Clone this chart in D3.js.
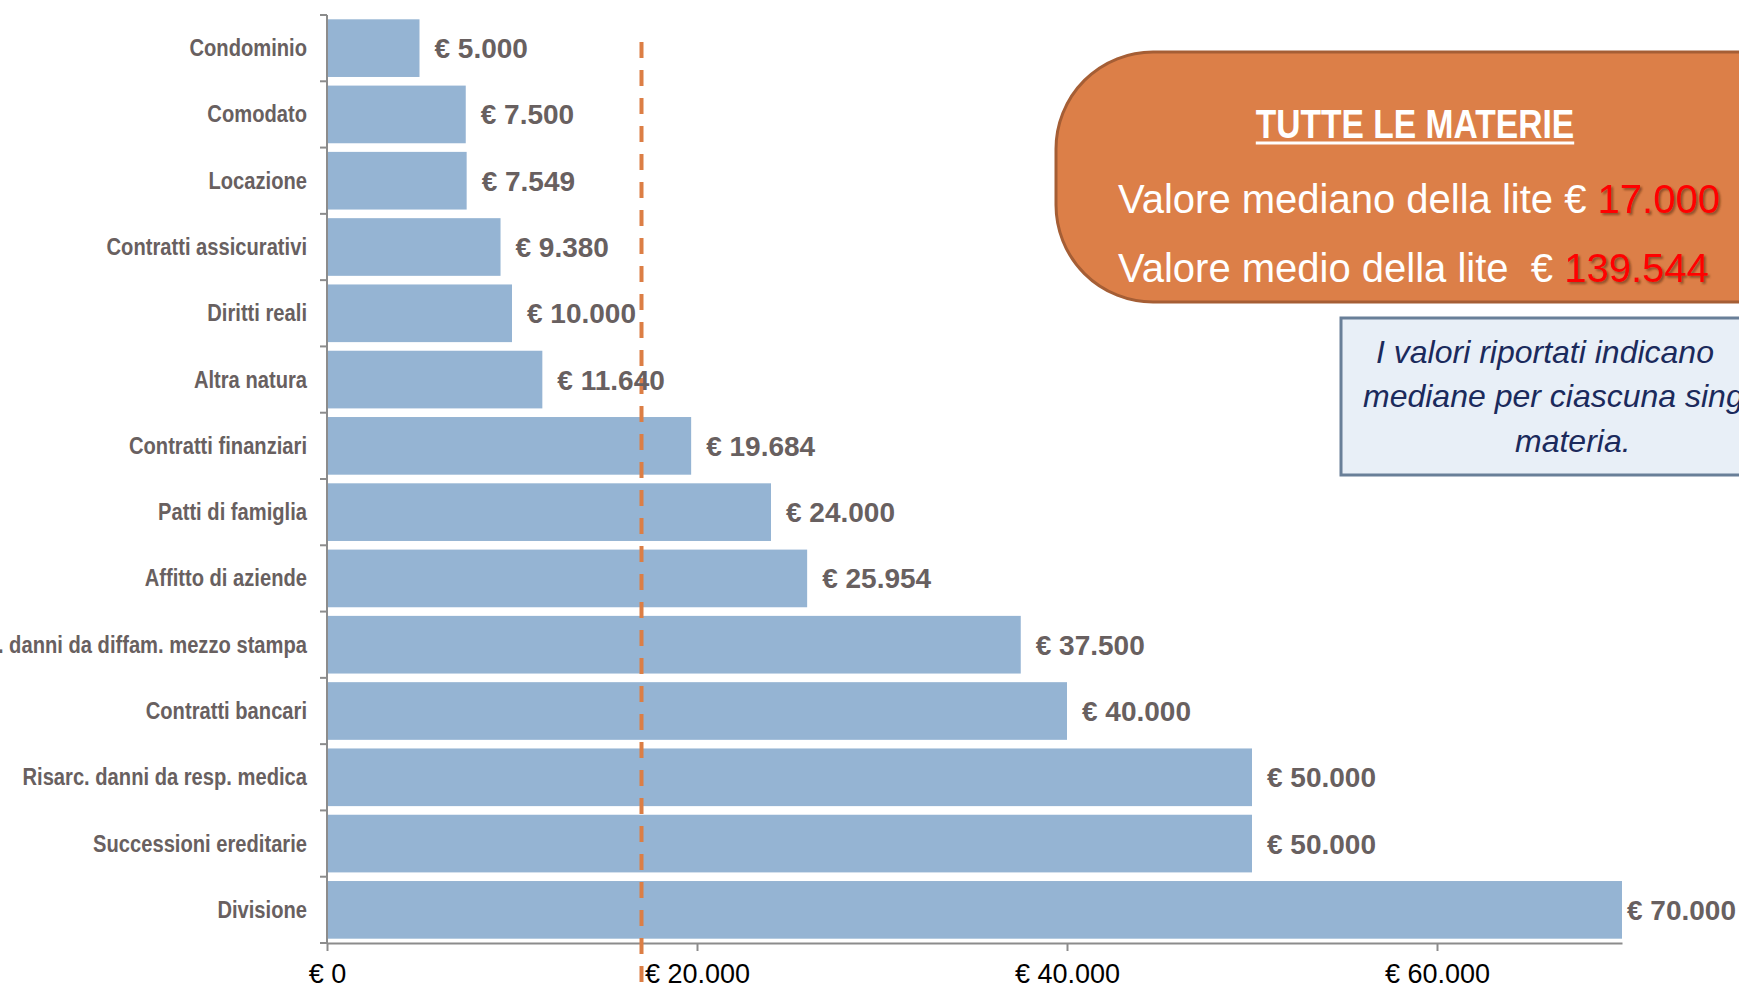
<!DOCTYPE html>
<html>
<head>
<meta charset="utf-8">
<script src="https://cdn.jsdelivr.net/npm/d3@7"></script>
<style>
  html, body { margin: 0; padding: 0; background: #ffffff; overflow: hidden; }
  svg { display: block; }
</style>
</head>
<body>
<div id="chart"></div>
<script>
// dati
var categories = ["Condominio", "Comodato", "Locazione", "Contratti assicurativi", "Diritti reali",
    "Altra natura", "Contratti finanziari", "Patti di famiglia", "Affitto di aziende",
    "Risarc. danni da diffam. mezzo stampa", "Contratti bancari", "Risarc. danni da resp. medica",
    "Successioni ereditarie", "Divisione"];
var values = [5000, 7500, 7549, 9380, 10000, 11640, 19684, 24000, 25954, 37500, 40000, 50000, 50000, 70000];
var xTicks = [0, 20000, 40000, 60000];
var medianValue = 17000;
var meanValue = 139544;
var boxTitle = "TUTTE LE MATERIE";
var noteLines = ["I valori riportati indicano", "mediane per ciascuna singola", "materia."];

var width = 1739;
var height = 989;

var itLocale = d3.formatLocale({decimal: ",", thousands: ".", grouping: [3], currency: ["€ ", ""]});
var fmt = itLocale.format(",.0f");
var euro = function (d) { return "€ " + fmt(d); };

var svg = d3.select("#chart")
    .append("svg")
    .attr("width", width)
    .attr("height", height);

var defs = svg.append("defs");
var shadow = defs.append("filter").attr("id", "shadow")
    .attr("x", "-10%").attr("y", "-20%").attr("width", "130%").attr("height", "150%");
shadow.append("feDropShadow")
    .attr("dx", 2).attr("dy", 2).attr("stdDeviation", 1)
    .attr("flood-color", "#5a2a10").attr("flood-opacity", 0.6);

var x = d3.scaleLinear()
    .domain([0, 70000])
    .range([327, 1622]);

var y = d3.scaleBand()
    .domain(categories)
    .range([15, 943])
    .paddingInner(0.13)
    .paddingOuter(0.065);

// barre
svg.append("g")
    .selectAll("rect")
    .data(values)
    .enter()
    .append("rect")
    .attr("x", x(0))
    .attr("y", function (d, i) { return y(categories[i]); })
    .attr("width", function (d) { return x(d) - x(0); })
    .attr("height", y.bandwidth())
    .style("fill", "#95b4d3");

// asse y con tacche tra le categorie
var step = y.step();
var boundaries = categories.map(function (c) { return y(c) - step * y.paddingInner() / 2; });
boundaries.push(943);

var yAxis = svg.append("g");
yAxis.append("line")
    .attr("x1", x(0)).attr("x2", x(0))
    .attr("y1", 15).attr("y2", 943)
    .style("stroke", "#8c8c8c").style("stroke-width", 2);
yAxis.selectAll(".ytick")
    .data(boundaries)
    .enter()
    .append("line")
    .attr("x1", x(0) - 7).attr("x2", x(0))
    .attr("y1", function (d) { return d; })
    .attr("y2", function (d) { return d; })
    .style("stroke", "#8c8c8c").style("stroke-width", 2);

// etichette categorie, compresse in orizzontale
yAxis.selectAll(".ylabel")
    .data(categories)
    .enter()
    .append("text")
    .attr("transform", function (d) {
        return "translate(307," + (y(d) + y.bandwidth() / 2 + 8) + ") scale(0.84,1)";
    })
    .attr("text-anchor", "end")
    .style("font-family", "'Liberation Sans', Arial, sans-serif")
    .style("font-weight", "bold")
    .style("font-size", "24px")
    .style("fill", "#686060")
    .text(function (d) { return d; });

// asse x
var xAxis = svg.append("g")
    .attr("transform", "translate(0,943)")
    .call(d3.axisBottom(x).tickValues(xTicks).tickSize(8).tickSizeOuter(0).tickFormat(euro));
xAxis.select(".domain").style("stroke", "#8c8c8c").style("stroke-width", 2);
xAxis.selectAll(".tick line").style("stroke", "#8c8c8c").style("stroke-width", 2);
xAxis.selectAll(".tick text")
    .attr("y", 40)
    .attr("dy", 0)
    .style("font-family", "'Liberation Sans', Arial, sans-serif")
    .style("font-size", "27px")
    .style("fill", "#000000");

// linea mediana
svg.append("line")
    .attr("x1", x(medianValue)).attr("x2", x(medianValue))
    .attr("y1", 42).attr("y2", height)
    .style("stroke", "#dc7e45")
    .style("stroke-width", 4)
    .style("stroke-dasharray", "16 12");

// etichette valori
var valueLabels = svg.append("g")
    .selectAll("text")
    .data(values)
    .enter()
    .append("text")
    .attr("y", function (d, i) { return y(categories[i]) + y.bandwidth() / 2 + 10; })
    .style("font-family", "'Liberation Sans', Arial, sans-serif")
    .style("font-weight", "bold")
    .style("font-size", "28px")
    .style("fill", "#686060")
    .text(euro);
valueLabels.attr("x", function (d) {
    var w = this.getComputedTextLength();
    return Math.min(x(d) + 15, width - w - 3);
});

// riquadro arancione
var bx = 1056, by = 52, bb = 302, r = 97;
svg.append("path")
    .attr("d", "M" + (width + 20) + "," + by + " H" + (bx + r) +
        " A" + r + "," + r + " 0 0 0 " + bx + "," + (by + r) +
        " V" + (bb - r) +
        " A" + r + "," + r + " 0 0 0 " + (bx + r) + "," + bb +
        " H" + (width + 20) + " Z")
    .style("fill", "#dc7f48")
    .style("stroke", "#a55e35")
    .style("stroke-width", 3);

var title = svg.append("text")
    .attr("transform", "translate(1415,138) scale(0.84,1)")
    .attr("text-anchor", "middle")
    .style("font-family", "'Liberation Sans', Arial, sans-serif")
    .style("font-weight", "bold")
    .style("font-size", "40px")
    .style("fill", "#ffffff")
    .text(boxTitle);
var tw = title.node().getComputedTextLength() * 0.84;
svg.append("line")
    .attr("x1", 1415 - tw / 2).attr("x2", 1415 + tw / 2)
    .attr("y1", 143).attr("y2", 143)
    .style("stroke", "#ffffff").style("stroke-width", 3);

var line1 = svg.append("text")
    .attr("x", 1118).attr("y", 213)
    .style("font-family", "'Liberation Sans', Arial, sans-serif")
    .style("font-size", "40px")
    .style("fill", "#ffffff")
    .style("white-space", "pre");
line1.append("tspan").text("Valore mediano della lite € ");
line1.append("tspan").style("fill", "#ff0000").attr("filter", "url(#shadow)").text(fmt(medianValue));

var line2 = svg.append("text")
    .attr("x", 1118).attr("y", 282)
    .style("font-family", "'Liberation Sans', Arial, sans-serif")
    .style("font-size", "40px")
    .style("fill", "#ffffff")
    .style("white-space", "pre");
line2.append("tspan").text("Valore medio della lite  € ");
line2.append("tspan").style("fill", "#ff0000").attr("filter", "url(#shadow)").text(fmt(meanValue));

// nota
svg.append("rect")
    .attr("x", 1341).attr("y", 318)
    .attr("width", 500).attr("height", 157)
    .style("fill", "#e8eff7")
    .style("stroke", "#697f98")
    .style("stroke-width", 3);

var noteX = [1376, 1363, 1515];
var noteY = [363, 407, 452];
svg.append("g")
    .selectAll("text")
    .data(noteLines)
    .enter()
    .append("text")
    .attr("x", function (d, i) { return noteX[i]; })
    .attr("y", function (d, i) { return noteY[i]; })
    .style("font-family", "'Liberation Sans', Arial, sans-serif")
    .style("font-style", "italic")
    .style("font-size", "32px")
    .style("fill", "#1b2a5c")
    .text(function (d) { return d; });
</script>
</body>
</html>
